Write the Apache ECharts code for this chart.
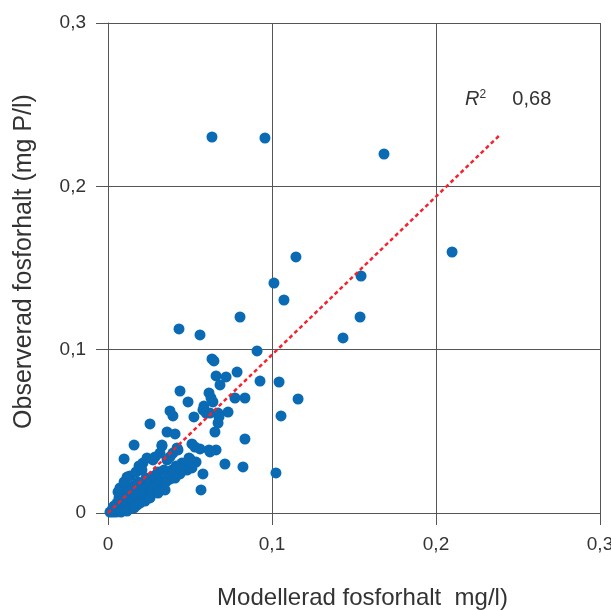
<!DOCTYPE html>
<html>
<head>
<meta charset="utf-8">
<script src="https://cdn.jsdelivr.net/npm/echarts@6/dist/echarts.min.js"></script>
<style>
  html, body { margin: 0; padding: 0; background: #fff; overflow: hidden; }
  #chart { width: 611px; height: 610px; }
</style>
</head>
<body>
<div id="chart"></div>
<script>
  // modelled (x) vs observed (y) phosphorus, mg/l
  const modelled = [
    0.0634, 0.0957, 0.1683, 0.2098, 0.1146, 0.1543, 0.1012, 0.1073, 0.1537, 0.0805,
    0.1433, 0.0433, 0.0561, 0.0909, 0.0634, 0.0646, 0.0659, 0.0720, 0.0787, 0.0683,
    0.0927, 0.1043, 0.1159, 0.0439, 0.0488, 0.0616, 0.0628, 0.0640, 0.0585, 0.0579,
    0.0598, 0.0622, 0.0774, 0.0835, 0.0378, 0.0396, 0.0524, 0.0671, 0.0732, 0.0677,
    0.0671, 0.1055, 0.0256, 0.0652, 0.0360, 0.0409, 0.0835, 0.0159, 0.0329, 0.0317,
    0.0512, 0.0530, 0.0561, 0.0421, 0.0396, 0.0378, 0.0616, 0.0659, 0.0622, 0.0238,
    0.0287, 0.0494, 0.0500, 0.0537, 0.0512, 0.0512, 0.0713, 0.0823, 0.0579, 0.1024,
    0.0567, 0.0098, 0.0213, 0.0189, 0.0274, 0.0360, 0.0451, 0.0482, 0.0445, 0.0378,
    0.0116, 0.0427, 0.0329,
    0.0024, 0.0037, 0.0049, 0.0055, 0.0067, 0.0073, 0.0085, 0.0091, 0.0104, 0.0110,
    0.0122, 0.0122, 0.0134, 0.0140, 0.0152, 0.0159, 0.0165, 0.0177, 0.0183, 0.0195,
    0.0201, 0.0213, 0.0226, 0.0232, 0.0244, 0.0256, 0.0268, 0.0280, 0.0293, 0.0305,
    0.0317, 0.0329, 0.0341, 0.0354, 0.0366, 0.0390, 0.0409, 0.0415, 0.0439, 0.0226,
    0.0256, 0.0073, 0.0098, 0.0061, 0.0134, 0.0171, 0.0207, 0.0305, 0.0348, 0.0012,
    0.0030, 0.0079, 0.0116, 0.0159, 0.0195
  ];
  const observed = [
    0.2302, 0.2296, 0.2198, 0.1598, 0.1568, 0.1451, 0.1408, 0.1304, 0.1200, 0.1200,
    0.1072, 0.1127, 0.1090, 0.0992, 0.0943, 0.0931, 0.0839, 0.0833, 0.0863, 0.0784,
    0.0808, 0.0802, 0.0698, 0.0747, 0.0680, 0.0735, 0.0704, 0.0680, 0.0655, 0.0631,
    0.0612, 0.0612, 0.0704, 0.0704, 0.0625, 0.0594, 0.0588, 0.0612, 0.0618, 0.0588,
    0.0551, 0.0594, 0.0545, 0.0496, 0.0496, 0.0484, 0.0453, 0.0416, 0.0410, 0.0367,
    0.0423, 0.0404, 0.0392, 0.0398, 0.0367, 0.0343, 0.0386, 0.0386, 0.0374, 0.0337,
    0.0343, 0.0337, 0.0331, 0.0312, 0.0306, 0.0276, 0.0300, 0.0282, 0.0239, 0.0245,
    0.0141, 0.0331, 0.0306, 0.0288, 0.0325, 0.0325, 0.0306, 0.0263, 0.0276, 0.0208,
    0.0220, 0.0386, 0.0416,
    0.0018, 0.0043, 0.0006, 0.0061, 0.0092, 0.0031, 0.0049, 0.0110, 0.0080, 0.0018,
    0.0141, 0.0061, 0.0098, 0.0031, 0.0165, 0.0080, 0.0122, 0.0049, 0.0190, 0.0141,
    0.0092, 0.0165, 0.0116, 0.0214, 0.0153, 0.0190, 0.0129, 0.0227, 0.0165, 0.0251,
    0.0202, 0.0141, 0.0263, 0.0190, 0.0239, 0.0263, 0.0214, 0.0288, 0.0239, 0.0073,
    0.0092, 0.0153, 0.0190, 0.0129, 0.0227, 0.0251, 0.0263, 0.0122, 0.0141, 0.0006,
    0.0006, 0.0006, 0.0012, 0.0031, 0.0061
  ];
  // regression line end points
  const trendX = [0, 0.239];
  const trendY = [0, 0.2315];
  const r2Text = '0,68';

  const fontFamily = 'Arial, "Liberation Sans", sans-serif';
  const gridColor = '#555';

  const chart = echarts.init(document.getElementById('chart'));

  const points = modelled.map((x, i) => [x, observed[i]]);
  const trend = trendX.map((x, i) => [x, trendY[i]]);

  const tickFmt = v => String(Math.round(v * 10) / 10).replace('.', ',');

  const axisCommon = {
    type: 'value',
    min: 0,
    max: 0.3,
    interval: 0.1,
    nameLocation: 'middle',
    axisLine: {show: true, lineStyle: {color: gridColor, width: 1}},
    axisTick: {show: true, inside: false, length: 12, lineStyle: {color: gridColor, width: 1}},
    splitLine: {show: true, lineStyle: {color: gridColor, width: 1}},
    axisLabel: {fontFamily: fontFamily, fontSize: 19, color: '#333', formatter: tickFmt}
  };

  const option = {
    animation: false,
    backgroundColor: '#fff',
    // labels run past the edge in the original, so don't let the grid shrink
    grid: {left: 108, top: 23, width: 492, height: 490, outerBoundsMode: 'none', containLabel: false},
    xAxis: Object.assign({}, axisCommon, {
      name: 'Modellerad fosforhalt  mg/l)',
      nameGap: 73,
      nameTextStyle: {fontFamily: fontFamily, fontSize: 24, color: '#333', padding: [0, 0, 0, 17]},
      axisLabel: Object.assign({}, axisCommon.axisLabel, {margin: 22})
    }),
    yAxis: Object.assign({}, axisCommon, {
      name: 'Observerad fosforhalt (mg P/l)',
      nameGap: 71,
      nameTextStyle: {fontFamily: fontFamily, fontSize: 25, color: '#333', padding: [0, 0, 0, 13]},
      axisLabel: Object.assign({}, axisCommon.axisLabel, {margin: 22})
    }),
    series: [
      {
        type: 'scatter',
        data: points,
        symbolSize: 11,
        itemStyle: {color: '#0a6ab3', opacity: 1},
        z: 2
      },
      {
        type: 'line',
        data: trend,
        symbol: 'none',
        lineStyle: {color: '#f5222d', width: 2.5, type: [4, 3]},
        z: 3
      }
    ],
    graphic: [{
      type: 'text',
      left: 465,
      top: 89,
      style: {
        text: '{i|R}{s|2}{n|    ' + r2Text + '}',
        rich: {
          i: {fontFamily: fontFamily, fontSize: 20, fontStyle: 'italic', fill: '#333', verticalAlign: 'bottom'},
          s: {fontFamily: fontFamily, fontSize: 12, fill: '#333', verticalAlign: 'top', padding: [0, 0, 8, 0]},
          n: {fontFamily: fontFamily, fontSize: 20, fill: '#333', padding: [0, 0, 0, 4]}
        }
      }
    }]
  };

  chart.setOption(option);
</script>
</body>
</html>
